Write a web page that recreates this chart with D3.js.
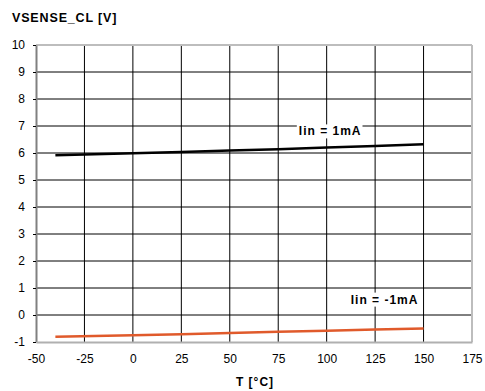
<!DOCTYPE html>
<html>
<head>
<meta charset="utf-8">
<script src="https://cdn.jsdelivr.net/npm/d3@7"></script>
<style>
  body { margin: 0; background: #fff; }
  svg { display: block; font-family: "Liberation Sans", Arial, sans-serif; }
</style>
</head>
<body>
<div id="chart"></div>
<script>
// Data
const temps = [-40, 0, 25, 50, 75, 100, 125, 150];
const vPlus1mA = [5.92, 5.99, 6.04, 6.09, 6.14, 6.20, 6.26, 6.32];
const vMinus1mA = [-0.81, -0.75, -0.71, -0.67, -0.62, -0.58, -0.54, -0.50];
const xTicks = [-50, -25, 0, 25, 50, 75, 100, 125, 150, 175];
const yTicks = [-1, 0, 1, 2, 3, 4, 5, 6, 7, 8, 9, 10];

const W = 485, H = 391;
const margin = { top: 45, right: 13, bottom: 49, left: 36 };
const width = W - margin.left - margin.right;
const height = H - margin.top - margin.bottom;

const svg = d3.select('#chart').append('svg')
  .attr('width', W)
  .attr('height', H);

const x = d3.scaleLinear().domain([-50, 175]).range([0, width]);
const y = d3.scaleLinear().domain([-1, 10]).range([height, 0]);

const g = svg.append('g').attr('transform', `translate(${margin.left},${margin.top})`);

// plain hyphen minus like the original
const fmt = d => String(d);

// Grid
g.selectAll('.vgrid')
  .data(xTicks.slice(1, -1))
  .enter().append('line')
  .attr('x1', d => x(d)).attr('x2', d => x(d))
  .attr('y1', 0).attr('y2', height)
  .attr('stroke', '#000').attr('stroke-width', 1);
g.selectAll('.hgrid')
  .data(yTicks.slice(1, -1))
  .enter().append('line')
  .attr('x1', 0).attr('x2', width)
  .attr('y1', d => y(d)).attr('y2', d => y(d))
  .attr('stroke', '#000').attr('stroke-width', 1);

// Frame: top/right light gray
g.append('line').attr('x1', 0).attr('x2', width).attr('y1', 0).attr('y2', 0)
  .attr('stroke', '#bdbdbd').attr('stroke-width', 2);
g.append('line').attr('x1', width).attr('x2', width).attr('y1', 0).attr('y2', height)
  .attr('stroke', '#bdbdbd').attr('stroke-width', 2);

// Axes
const yAxis = g.append('g')
  .call(d3.axisLeft(y).tickValues(yTicks).tickFormat(fmt).tickSize(3).tickSizeOuter(0));
yAxis.select('.domain').attr('stroke', '#808080').attr('stroke-width', 2);
yAxis.selectAll('.tick line').attr('stroke', '#000');
yAxis.selectAll('text')
  .attr('x', -11)
  .style('font-size', '12px')
  .style('font-family', '"Liberation Sans", Arial, sans-serif')
  .attr('fill', '#000');

const xAxis = g.append('g')
  .attr('transform', `translate(0,${height})`)
  .call(d3.axisBottom(x).tickValues(xTicks).tickFormat(fmt).tickSize(0).tickSizeOuter(0));
xAxis.select('.domain').attr('stroke', '#b0b0b0').attr('stroke-width', 2);
xAxis.selectAll('text')
  .attr('y', 12)
  .style('font-size', '12px')
  .style('font-family', '"Liberation Sans", Arial, sans-serif')
  .attr('fill', '#000');

// Series lines
const line = d3.line().x(d => x(d[0])).y(d => y(d[1]));
g.append('path')
  .datum(temps.map((t, i) => [t, vPlus1mA[i]]))
  .attr('d', line)
  .attr('fill', 'none')
  .attr('stroke', '#000')
  .attr('stroke-width', 2.5);
g.append('path')
  .datum(temps.map((t, i) => [t, vMinus1mA[i]]))
  .attr('d', line)
  .attr('fill', 'none')
  .attr('stroke', '#e05a2b')
  .attr('stroke-width', 2.5);

// Series labels with white background
function label(text, cx, cy) {
  const t = g.append('text')
    .attr('x', cx).attr('y', cy)
    .attr('text-anchor', 'middle')
    .attr('dominant-baseline', 'central')
    .style('font-size', '12px')
    .style('font-weight', 'bold')
    .style('letter-spacing', '1px')
    .text(text);
  const bb = t.node().getBBox();
  g.insert('rect', () => t.node())
    .attr('x', bb.x - 2).attr('y', bb.y)
    .attr('width', bb.width + 3).attr('height', bb.height)
    .attr('fill', '#fff');
}
label('Iin = 1mA', x(101.8), y(6.8));
label('Iin = -1mA', x(129.9), y(0.57));

// Titles
svg.append('text')
  .attr('x', 12).attr('y', 22)
  .style('font-size', '12.5px')
  .style('font-weight', 'bold')
  .style('letter-spacing', '0.85px')
  .text('VSENSE_CL [V]');
svg.append('text')
  .attr('x', margin.left + x(62.5) + 1).attr('y', 385.5)
  .attr('text-anchor', 'middle')
  .style('font-size', '12px')
  .style('font-weight', 'bold')
  .style('letter-spacing', '1px')
  .text('T [°C]');
</script>
</body>
</html>
